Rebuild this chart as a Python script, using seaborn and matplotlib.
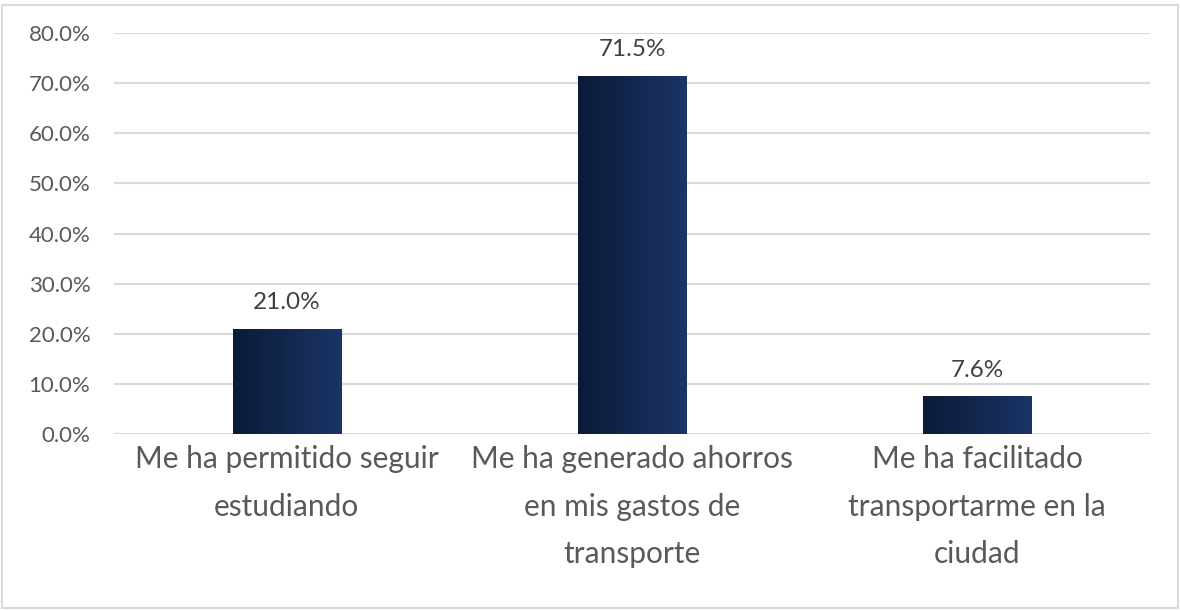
import numpy as np
import pandas as pd
import matplotlib
matplotlib.use("Agg")
import matplotlib.pyplot as plt
import seaborn as sns
from matplotlib.colors import LinearSegmentedColormap
from matplotlib.patches import Rectangle

# data
categorias = [
    "Me ha permitido seguir\nestudiando",
    "Me ha generado ahorros\nen mis gastos de\ntransporte",
    "Me ha facilitado\ntransportarme en la\nciudad",
]
porcentajes = [0.210, 0.715, 0.076]
yticks = [0.0, 0.1, 0.2, 0.3, 0.4, 0.5, 0.6, 0.7, 0.8]

df = pd.DataFrame({"categoria": categorias, "valor": porcentajes})

sns.set_style("white")
plt.rcParams["font.family"] = ["Lato", "DejaVu Sans"]

fig = plt.figure(figsize=(11.8, 6.1), dpi=100)
ax = fig.add_axes([114 / 1180, 1 - 434 / 610, (1150 - 114) / 1180, (434 - 33) / 610])

sns.barplot(data=df, x="categoria", y="valor", color="#142a52", width=0.313, ax=ax, zorder=3)

# gradient fill on each bar
cmap = LinearSegmentedColormap.from_list("grad", ["#0b1a38", "#1b3566"])
grad = np.linspace(0, 1, 256).reshape(1, -1)
for p in ax.patches:
    x0, y0 = p.get_x(), p.get_y()
    w, h = p.get_width(), p.get_height()
    im = ax.imshow(grad, cmap=cmap, aspect="auto", extent=[x0, x0 + w, y0, y0 + h], zorder=4)
    im.set_clip_path(p)
    p.set_facecolor("none")
    p.set_edgecolor("none")

ax.set_xlim(-0.5, 2.5)
ax.set_ylim(0, 0.8)
ax.set_yticks(yticks)
ax.set_yticklabels([f"{t * 100:.1f}%" for t in yticks])
ax.yaxis.grid(True, color="#d9d9d9", linewidth=1.5, zorder=0)
ax.set_axisbelow(True)
for s in ax.spines.values():
    s.set_visible(False)
ax.tick_params(axis="y", length=0, pad=17, labelsize=16, labelcolor="#595959")
ax.tick_params(axis="x", length=0, pad=8, labelsize=21.5, labelcolor="#595959")
for lab in ax.get_xticklabels():
    lab.set_linespacing(1.85)
ax.set_xlabel("")
ax.set_ylabel("")

# value labels
for i, v in enumerate(porcentajes):
    ax.annotate(f"{v * 100:.1f}%", (i, v), xytext=(0, 11), textcoords="offset points",
                ha="center", va="bottom", fontsize=17.5, color="#404040")

# outer chart border
fig.patches.append(Rectangle((2 / 1180, 2 / 610), 1176 / 1180, 603 / 610, transform=fig.transFigure,
                             fill=False, edgecolor="#d9d9d9", linewidth=1.5))

fig.savefig("out.png", dpi=100)
